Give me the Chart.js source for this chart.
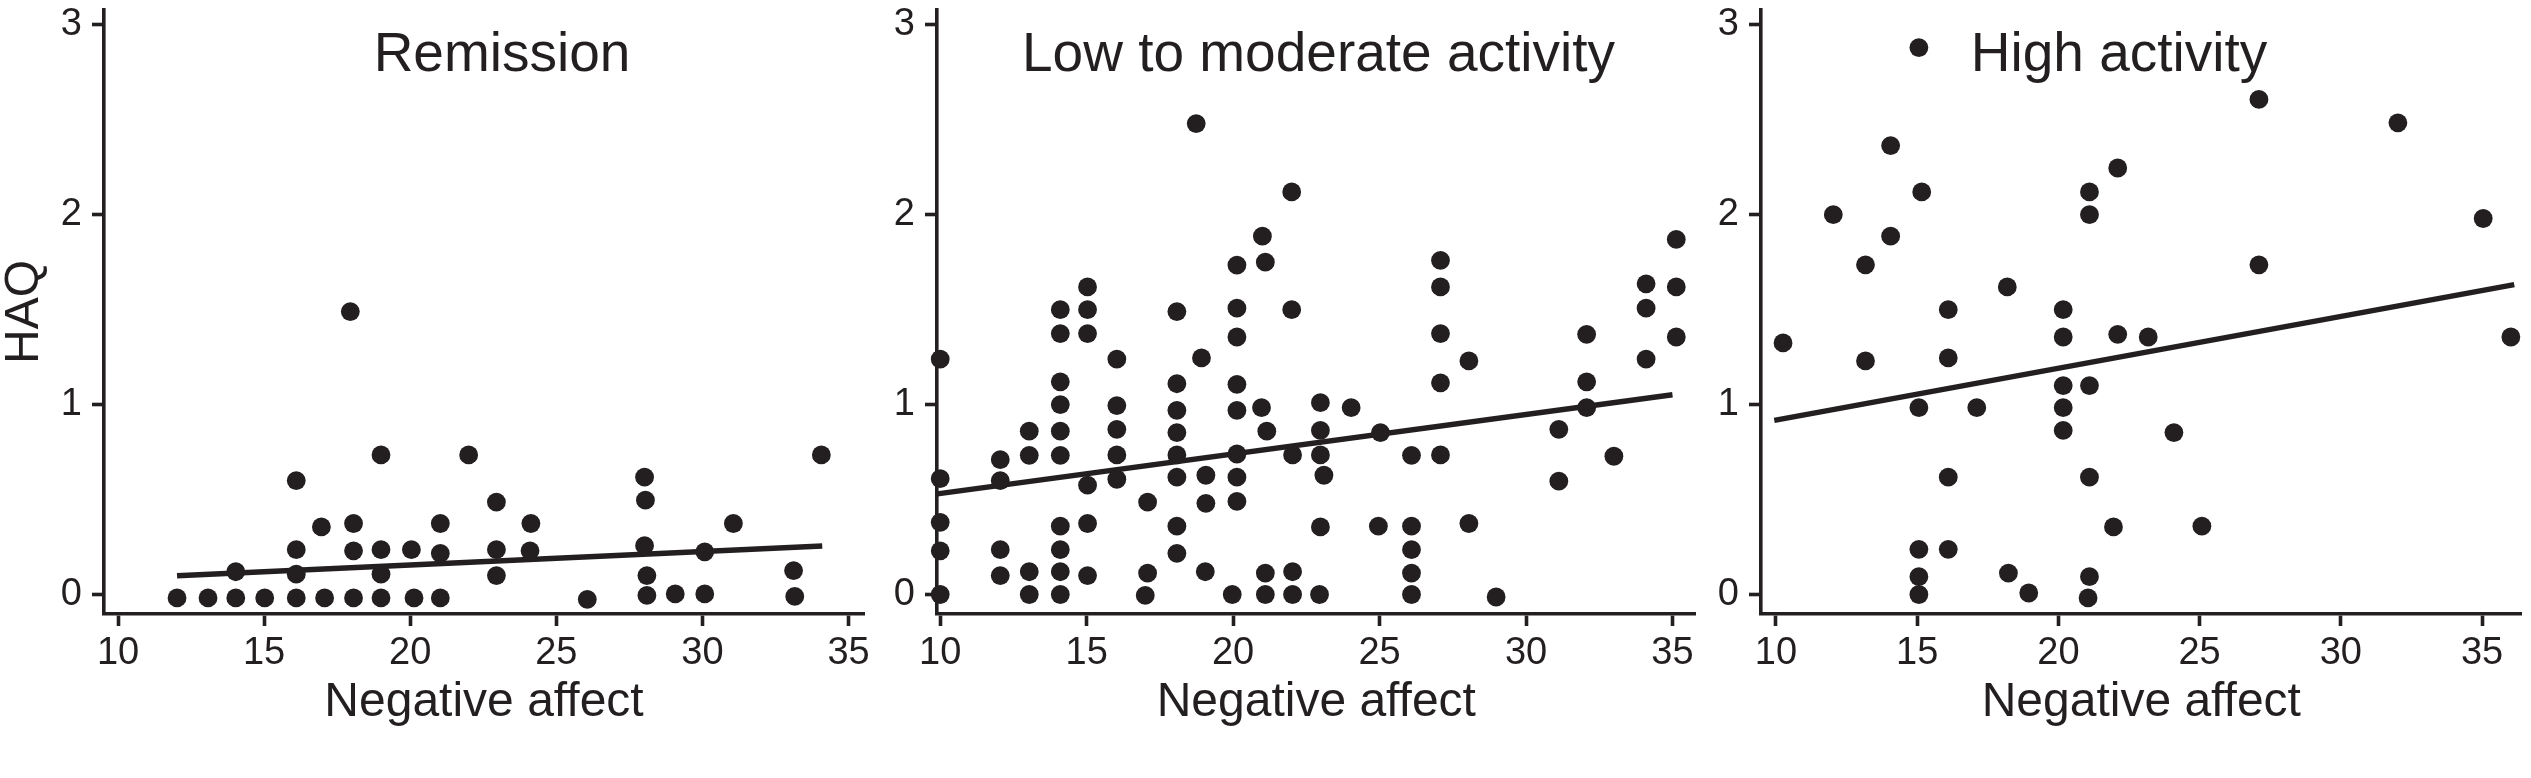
<!DOCTYPE html>
<html><head><meta charset="utf-8">
<script src="https://cdn.jsdelivr.net/npm/chart.js@4"></script>
<style>
html,body{margin:0;padding:0;background:#fff;}
#wrap{position:relative;width:2531px;height:778px;overflow:hidden;background:#fff;}
canvas{position:absolute;top:0;}
</style></head><body>
<div id="wrap">
<canvas id="c1" width="875" height="778" style="left:0px"></canvas>
<canvas id="c2" width="830" height="778" style="left:875px"></canvas>
<canvas id="c3" width="826" height="778" style="left:1705px"></canvas>
</div>
<script>
const xTicks = [10, 15, 20, 25, 30, 35];
const yTicks = [0, 1, 2, 3];
const panelTitles = ["Remission", "Low to moderate activity", "High activity"];
const xAxisTitle = "Negative affect";
const yAxisTitle = "HAQ";

// Remission
const remX = [12.02,13.08,14.03,15.02,16.1,17.07,18.06,19.0,20.13,21.03,26.06,28.1,29.07,30.08,33.16,
  14.03,16.1,16.1,16.1,16.96,18.06,18.06,17.95,19.0,19.0,19.0,20.04,21.03,21.03,22.0,
  22.95,22.95,22.95,24.13,24.1,28.02,28.05,28.02,28.1,30.08,31.06,33.12,34.07];
const remY = [-0.018,-0.018,-0.018,-0.018,-0.018,-0.018,-0.018,-0.018,-0.018,-0.018,-0.026,-0.005,0.003,0.003,-0.01,
  0.12,0.107,0.236,0.60,0.356,0.374,0.23,1.49,0.236,0.107,0.735,0.236,0.374,0.217,0.735,
  0.487,0.236,0.1,0.374,0.23,0.618,0.497,0.257,0.1,0.225,0.374,0.126,0.735];
const remFitX = [12.02, 34.1];
const remFitY = [0.099, 0.256];

// Low to moderate activity
const lowX = [10.0,10.0,10.0,10.0,10.0,
  12.05,12.05,12.05,12.05,
  13.04,13.04,13.04,13.04,
  14.1,14.1,14.1,14.1,14.1,14.1,14.1,14.1,14.1,14.1,
  15.03,15.03,15.03,15.03,15.03,15.03,
  16.03,16.03,16.03,16.03,16.03,
  17.08,17.08,17.0,
  18.08,18.08,18.08,18.08,18.08,18.08,18.08,18.08,
  18.74,18.92,19.07,19.07,19.05,
  20.13,20.13,20.13,20.13,20.13,20.13,20.13,20.13,19.97,
  21.0,21.1,20.97,21.15,21.1,21.1,
  22.0,22.0,22.03,22.03,22.03,
  22.98,22.98,22.98,23.1,22.98,22.95,
  24.03,
  25.03,24.96,
  26.09,26.09,26.09,26.09,26.09,
  27.08,27.08,27.08,27.08,27.08,
  28.05,28.05,
  28.98,
  31.12,31.12,
  32.07,32.07,32.07,
  33.0,
  34.1,34.1,34.1,
  35.13,35.13,35.13];
const lowY = [1.24,0.61,0.38,0.23,0.0,
  0.71,0.60,0.236,0.1,
  0.86,0.733,0.12,0.0,
  1.5,1.374,1.12,1.0,0.86,0.733,0.36,0.236,0.12,0.0,
  1.62,1.5,1.374,0.576,0.374,0.1,
  1.24,0.995,0.87,0.735,0.607,
  0.487,0.113,-0.005,
  1.49,1.11,0.97,0.853,0.735,0.618,0.36,0.217,
  2.48,1.246,0.628,0.48,0.12,
  1.735,1.508,1.356,1.107,0.97,0.74,0.618,0.49,0.0,
  1.887,1.75,0.984,0.86,0.113,0.0,
  2.12,1.5,0.735,0.12,0.0,
  1.01,0.864,0.735,0.628,0.356,0.0,
  0.984,
  0.853,0.36,
  0.733,0.36,0.236,0.113,0.0,
  1.76,1.62,1.374,1.115,0.735,
  1.23,0.374,
  -0.013,
  0.87,0.597,
  1.37,1.12,0.984,
  0.728,
  1.636,1.508,1.24,
  1.87,1.62,1.356];
const lowFitX = [9.9, 35.0];
const lowFitY = [0.53, 1.052];

// High activity
const highX = [10.25,12.03,13.17,13.17,14.06,14.06,
  15.06,15.16,15.06,15.06,15.06,15.06,
  16.1,16.1,16.1,16.1,
  17.11,18.19,18.23,18.95,
  20.17,20.17,20.17,20.17,20.17,
  21.1,21.1,21.1,21.1,21.1,21.05,
  22.1,22.1,21.95,23.18,24.09,25.08,
  27.1,27.1,32.02,35.04,36.02];
const highY = [1.325,2.0,1.736,1.23,2.364,1.887,
  2.88,2.12,0.984,0.238,0.094,0.0,
  1.5,1.246,0.618,0.238,
  0.984,1.62,0.113,0.008,
  1.5,1.356,1.1,0.984,0.864,
  2.12,2.0,1.1,0.618,0.094,-0.018,
  2.246,1.37,0.356,1.356,0.853,0.36,
  2.607,1.736,2.484,1.98,1.356];
const highFitX = [9.94, 36.14];
const highFitY = [0.917, 1.632];

const INK = '#231f20';
const FONT = '"Liberation Sans", Arial, Helvetica, sans-serif';

const panelTitlePlugin = {
  id: 'panelTitle',
  afterDraw(chart, args, o) {
    const ctx = chart.ctx;
    ctx.save();
    ctx.font = o.size + 'px ' + FONT;
    ctx.fillStyle = INK;
    ctx.textAlign = 'center';
    ctx.textBaseline = 'alphabetic';
    ctx.fillText(o.text, o.x, o.y);
    ctx.restore();
  }
};

function makePanel(id, xs, ys, fx, fy, title, cfg) {
  const pts = xs.map((x, i) => ({x: x, y: ys[i]}));
  const fit = fx.map((x, i) => ({x: x, y: fy[i]}));
  return new Chart(document.getElementById(id), {
    type: 'scatter',
    data: {
      datasets: [
        {data: pts, pointRadius: 9.4, pointHoverRadius: 9.4, pointBackgroundColor: INK,
         pointBorderWidth: 0, borderWidth: 0, showLine: false, clip: false, order: 2},
        {data: fit, showLine: true, pointRadius: 0, borderColor: INK, borderWidth: 5.5,
         clip: false, order: 1, fill: false}
      ]
    },
    options: {
      responsive: false,
      devicePixelRatio: 1,
      animation: false,
      events: [],
      layout: {padding: {left: 0, top: 10, right: cfg.padRight, bottom: 0}},
      plugins: {
        legend: {display: false},
        tooltip: {enabled: false},
        panelTitle: {text: title, x: cfg.titleX, y: 70.5, size: 55}
      },
      scales: {
        x: {
          type: 'linear', min: cfg.xMin, max: cfg.xMax,
          afterBuildTicks: s => { s.ticks = xTicks.map(v => ({value: v})); },
          afterFit: s => { s.height = 164; s.paddingLeft = 0; s.paddingRight = 0; s.paddingTop = 0; s.paddingBottom = 0; },
          border: {display: true, color: INK, width: 3.6},
          grid: {display: true, drawOnChartArea: false, drawTicks: true, tickLength: 12, tickWidth: 3.6, tickColor: INK, color: INK},
          ticks: {color: INK, font: {family: FONT, size: 38}, padding: 5, maxRotation: 0, autoSkip: false},
          title: {display: true, text: xAxisTitle, color: INK, font: {family: FONT, size: 48}, padding: {top: 0, bottom: 46}}
        },
        y: {
          type: 'linear', min: -0.1026, max: 3.078,
          afterBuildTicks: s => { s.ticks = yTicks.map(v => ({value: v})); },
          afterFit: s => { s.width = cfg.yWidth; s.paddingTop = 0; s.paddingBottom = 0; s.paddingLeft = 0; s.paddingRight = 0; },
          border: {display: true, color: INK, width: 3.6},
          grid: {display: true, drawOnChartArea: false, drawTicks: true, tickLength: 12, tickWidth: 3.6, tickColor: INK, color: INK},
          ticks: {color: INK, font: {family: FONT, size: 38}, padding: 10, autoSkip: false},
          title: {display: cfg.showYTitle, text: yAxisTitle, color: INK, font: {family: FONT, size: 48, lineHeight: 1.0}, padding: {top: 1, bottom: 0}}
        }
      }
    },
    plugins: [panelTitlePlugin]
  });
}

makePanel('c1', remX, remY, remFitX, remFitY, panelTitles[0],
  {xMin: 9.52, xMax: 35.53, padRight: 11, yWidth: 104, titleX: 502, showYTitle: true});
makePanel('c2', lowX, lowY, lowFitX, lowFitY, panelTitles[1],
  {xMin: 9.89, xMax: 35.79, padRight: 9, yWidth: 62, titleX: 443.5, showYTitle: false});
makePanel('c3', highX, highY, highFitX, highFitY, panelTitles[2],
  {xMin: 9.47, xMax: 36.40, padRight: 8.4, yWidth: 56, titleX: 414, showYTitle: false});
</script>
</body></html>
